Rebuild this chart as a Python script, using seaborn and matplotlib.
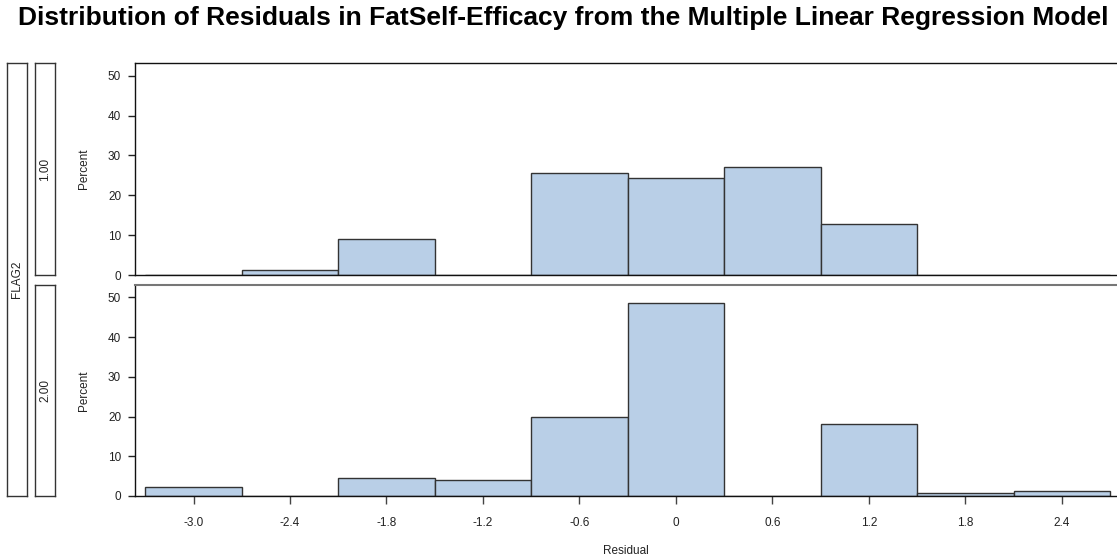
import numpy as np
import pandas as pd
import matplotlib
matplotlib.use("Agg")
import matplotlib.pyplot as plt
import seaborn as sns

# ---- data ----
bin_centers = [-3.0, -2.4, -1.8, -1.2, -0.6, 0.0, 0.6, 1.2, 1.8, 2.4]
pct_flag1 = [0.0, 1.25, 9.1, 0.0, 25.7, 24.4, 27.0, 12.9, 0.0, 0.0]
pct_flag2 = [2.2, 0.0, 4.5, 4.0, 20.0, 48.5, 0.0, 18.05, 0.85, 1.35]
panel_labels = ["1.00", "2.00"]
xtick_vals = [-3.0, -2.4, -1.8, -1.2, -0.6, 0.0, 0.6, 1.2, 1.8, 2.4]
xtick_labels = ["-3.0", "-2.4", "-1.8", "-1.2", "-0.6", "0", "0.6", "1.2", "1.8", "2.4"]
ytick_vals = [0, 10, 20, 30, 40, 50]

sns.set_theme(style="white")
plt.rcParams['font.family'] = ['Liberation Sans', 'DejaVu Sans']

W, H = 1117, 560
fig = plt.figure(figsize=(W / 100, H / 100), dpi=100)

def box(x0, y0, x1, y1):
    return [x0 / W, 1 - y1 / H, (x1 - x0) / W, (y1 - y0) / H]

width = 0.6
fill = "#B9CFE7"
edgec = "#333333"

xl = (-3.364, 2.743)
panels = [(63, 275, pct_flag1, 53.2), (285, 496, pct_flag2, 53.1)]
axes = []
for i, (t, b, vals, ytop) in enumerate(panels):
    ax = fig.add_axes(box(135, t, 1117, b))
    df = pd.DataFrame({"Residual": bin_centers, "pct": vals})
    sns.histplot(data=df, x="Residual", weights="pct", binwidth=width,
                 binrange=(-3.3, 2.7), ax=ax,
                 color=fill, edgecolor=edgec, linewidth=1.0, alpha=1.0, stat="count")
    ax.set_xlim(*xl)
    ax.set_ylim(0, ytop)
    ax.set_yticks(ytick_vals)
    ax.set_yticklabels([str(v) for v in ytick_vals], fontsize=8.5, color="#222222")
    ax.tick_params(axis="y", left=True, length=5, width=1, color="#222222", pad=5)
    ax.set_ylabel("Percent", fontsize=8.5, color="#222222", labelpad=13)
    for s in ["left", "bottom", "top"]:
        ax.spines[s].set_visible(True)
        ax.spines[s].set_color("#111111")
        ax.spines[s].set_linewidth(1.0)
    ax.spines["right"].set_visible(False)
    if i == 0:
        ax.set_xticks([])
        ax.set_xlabel("")
    else:
        ax.spines["top"].set_color("#777777")
        ax.spines["top"].set_linewidth(1.5)
        ax.set_xticks(xtick_vals)
        ax.set_xticklabels(xtick_labels, fontsize=8.5, color="#222222")
        ax.tick_params(axis="x", bottom=True, length=6, width=1, color="#444444", pad=9)
        ax.set_xlabel("Residual", fontsize=8.5, color="#222222", labelpad=12)
    axes.append(ax)

# strips
def strip(x0, y0, x1, y1, text):
    sa = fig.add_axes(box(x0, y0, x1, y1))
    sa.set_xticks([]); sa.set_yticks([])
    for s in sa.spines.values():
        s.set_visible(True)
        s.set_color("#333333")
        s.set_linewidth(1.0)
    sa.set_facecolor("white")
    sa.text(0.5, 0.5, text, rotation=90, ha="center", va="center",
            fontsize=8.5, color="#222222", transform=sa.transAxes)
    return sa

strip(7, 63, 27, 496, "FLAG2")
strip(35, 63, 55, 275, panel_labels[0])
strip(35, 285, 55, 496, panel_labels[1])

fig.text(563 / W, 1 - 18 / H, "Distribution of Residuals in FatSelf-Efficacy from the Multiple Linear Regression Model",
         ha="center", va="center", fontsize=19, fontweight="bold", color="black")

fig.savefig("out.png", dpi=100)
